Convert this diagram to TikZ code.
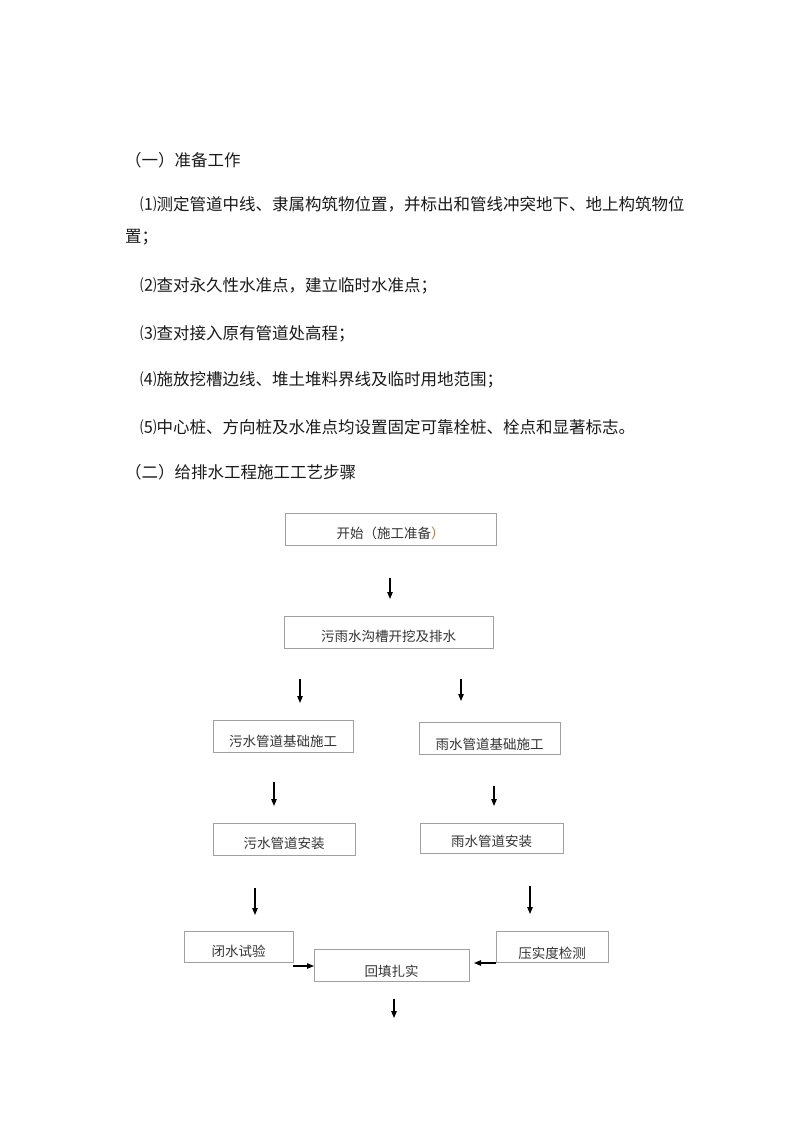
\documentclass[tikz,border=0pt]{standalone}
\usepackage{fontspec}
\setmainfont{Noto Sans CJK SC}
\usetikzlibrary{arrows.meta,calc}
\definecolor{boxline}{HTML}{A0A0A0}
\definecolor{boxtxt}{HTML}{333333}
\definecolor{brk}{HTML}{B8734A}
\begin{document}
\begin{tikzpicture}[x=1pt,y=-1pt,
  para/.style={anchor=west,inner sep=0pt,font=\fontsize{16.5}{20}\selectfont,text=black!90},
  box/.style={draw=boxline,line width=0.8pt,inner sep=0pt},
  boxtext/.style={inner sep=0pt,font=\fontsize{13.5}{16}\selectfont,text=boxtxt},
  arr/.style={line width=1.1pt,-{Triangle[length=7pt,width=5.5pt]}}]
\useasboundingbox (0,0) rectangle (800,1131);
% paragraphs
\node[para] (t0) at (125,160) {（一）准备工作};
\node[para] (t1) at (140,204) {⑴测定管道中线、隶属构筑物位置，并标出和管线冲突地下、地上构筑物位};
\node[para] (t1b) at (125,237) {置；};
\node[para] (t2) at (140,286) {⑵查对永久性水准点，建立临时水准点；};
\node[para] (t3) at (140,334) {⑶查对接入原有管道处高程；};
\node[para] (t4) at (140,380) {⑷施放挖槽边线、堆土堆料界线及临时用地范围；};
\node[para] (t5) at (140,427) {⑸中心桩、方向桩及水准点均设置固定可靠栓桩、栓点和显著标志。};
\node[para] (t6) at (125,472) {（二）给排水工程施工工艺步骤};
% boxes
\node[box,minimum width=211,minimum height=32] (b1) at (390.5,529) {};
\node[boxtext] (b1t) at ($(b1.center)+(0,4)$) {开始（施工准备\textcolor{brk}{）}};
\node[box,minimum width=209,minimum height=32] (b2) at (388.5,632) {};
\node[boxtext] (b2t) at ($(b2.center)+(0,4)$) {污雨水沟槽开挖及排水};
\node[box,minimum width=140,minimum height=32] (b3) at (283,736) {};
\node[boxtext] (b3t) at ($(b3.center)+(0,5)$) {污水管道基础施工};
\node[box,minimum width=141,minimum height=32] (b4) at (489.5,738) {};
\node[boxtext] (b4t) at ($(b4.center)+(0,6)$) {雨水管道基础施工};
\node[box,minimum width=142,minimum height=32] (b5) at (284,839) {};
\node[boxtext] (b5t) at ($(b5.center)+(0,4)$) {污水管道安装};
\node[box,minimum width=143,minimum height=30] (b6) at (491.5,838) {};
\node[boxtext] (b6t) at ($(b6.center)+(0,3)$) {雨水管道安装};
\node[box,minimum width=109,minimum height=31] (b7) at (238.5,946.5) {};
\node[boxtext] (b7t) at ($(b7.center)+(0,5)$) {闭水试验};
\node[box,minimum width=155,minimum height=32] (b8) at (391.5,965) {};
\node[boxtext] (b8t) at ($(b8.center)+(0,6)$) {回填扎实};
\node[box,minimum width=112,minimum height=31] (b9) at (552,946.5) {};
\node[boxtext] (b9t) at ($(b9.center)+(0,7)$) {压实度检测};
% arrow end points
\coordinate (a1s) at (390,578); \coordinate (a1e) at (390,599);
\coordinate (a2s) at (300,679); \coordinate (a2e) at (300,703);
\coordinate (a3s) at (461,679); \coordinate (a3e) at (461,701);
\coordinate (a4s) at (274,782); \coordinate (a4e) at (274,806);
\coordinate (a5s) at (494,786); \coordinate (a5e) at (494,806);
\coordinate (a6s) at (255,888); \coordinate (a6e) at (255,915);
\coordinate (a7s) at (530,886); \coordinate (a7e) at (530,914);
\coordinate (a8s) at (293,966); \coordinate (a8e) at (314,966);
\coordinate (a9s) at (496,963); \coordinate (a9e) at (474,963);
\coordinate (a10s) at (394,999); \coordinate (a10e) at (394,1018);
\foreach \i in {1,...,10} {\draw[arr] (a\i s) -- (a\i e);}
\end{tikzpicture}
\end{document}
